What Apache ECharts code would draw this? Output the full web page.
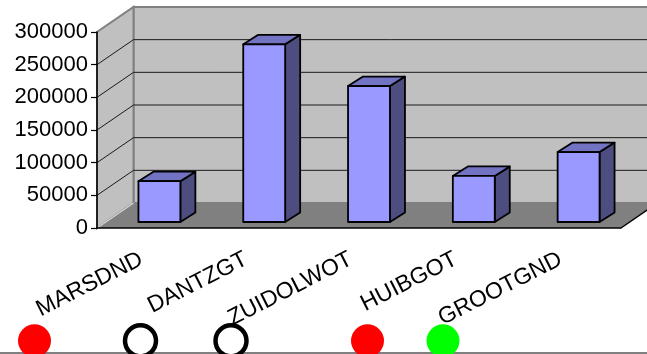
<!DOCTYPE html>
<html>
<head>
<meta charset="utf-8">
<script src="https://cdn.jsdelivr.net/npm/echarts@6/dist/echarts.min.js"></script>
<style>
  html, body { margin: 0; padding: 0; background: #fff; }
  #chart { width: 647px; height: 354px; }
</style>
</head>
<body>
<div id="chart"></div>
<script>
const categories = ["MARSDND", "DANTZGT", "ZUIDOLWOT", "HUIBGOT", "GROOTGND"];
const values = [62500, 272000, 208000, 70500, 107000];
const yTicks = [0, 50000, 100000, 150000, 200000, 250000, 300000];

// status dots below the chart (position on a hidden 0..647 axis)
const dotPos = [34.5, 140.5, 231, 367.5, 443];
const dotKind = ["red", "ring", "ring", "red", "green"];

const FONT = "'Liberation Sans', Arial, sans-serif";
// depth of the 3d box
const DX = 36.5, DY = -25;
// bar front offset and bar depth
const BX = 10, BY = -6, BDX = 15, BDY = -9.5;

const chart = echarts.init(document.getElementById("chart"));

function renderWalls(params, api) {
  const cs = params.coordSys;
  const x0 = cs.x, x1 = cs.x + cs.width;
  const yt = cs.y, yb = cs.y + cs.height;
  const children = [];
  // back wall
  children.push({
    type: "polygon",
    shape: { points: [[x0 + DX, yt + DY], [x1 + DX, yt + DY], [x1 + DX, yb + DY], [x0 + DX, yb + DY]] },
    style: { fill: "#c0c0c0", stroke: "#808080", lineWidth: 2 }
  });
  // side wall
  children.push({
    type: "polygon",
    shape: { points: [[x0, yb], [x0, yt], [x0 + DX, yt + DY], [x0 + DX, yb + DY]] },
    style: { fill: "#c0c0c0", stroke: "#808080", lineWidth: 2 }
  });
  // grid lines on walls
  yTicks.forEach(function (v) {
    if (v === 0 || v === yTicks[yTicks.length - 1]) return;
    const y = api.coord([0, v])[1];
    children.push({
      type: "polyline",
      shape: { points: [[x0, y], [x0 + DX, y + DY], [x1 + DX, y + DY]] },
      style: { fill: null, stroke: "#1a1a1a", lineWidth: 1 }
    });
  });
  // floor
  children.push({
    type: "polygon",
    shape: { points: [[x0, yb], [x1, yb], [x1 + DX, yb + DY], [x0 + DX, yb + DY]] },
    style: { fill: "#808080" }
  });
  children.push({
    type: "line",
    shape: { x1: x0, y1: yb, x2: x0 + DX, y2: yb + DY },
    style: { stroke: "#d4d4d4", lineWidth: 1.5 }
  });
  children.push({
    type: "line",
    shape: { x1: x1, y1: yb, x2: x1 + DX, y2: yb + DY },
    style: { stroke: "#000", lineWidth: 1.5 }
  });
  return { type: "group", children: children };
}

function renderBar(params, api) {
  const i = api.value(0), v = api.value(1);
  const top = api.coord([i, v]);
  const base = api.coord([i, 0]);
  const bw = api.size([1, 0])[0];
  const fl = top[0] - bw * 0.2 + BX, fr = fl + bw * 0.4;
  const ft = top[1] + BY, fb = base[1] + BY;
  const line = { stroke: "#000", lineWidth: 1.8, lineJoin: "round" };
  return {
    type: "group",
    children: [
      {
        type: "polygon",
        shape: { points: [[fr, ft], [fr, fb], [fr + BDX, fb + BDY], [fr + BDX, ft + BDY]] },
        style: Object.assign({ fill: "#4d4d80" }, line)
      },
      {
        type: "polygon",
        shape: { points: [[fl, ft], [fr, ft], [fr + BDX, ft + BDY], [fl + BDX, ft + BDY]] },
        style: Object.assign({ fill: "#7373c4" }, line)
      },
      {
        type: "rect",
        shape: { x: fl, y: ft, width: fr - fl, height: fb - ft },
        style: Object.assign({ fill: "#9999ff" }, line)
      }
    ]
  };
}

const option = {
  animation: false,
  backgroundColor: "#fff",
  grid: [
    { left: 97, right: 26, top: 32, bottom: 126 },
    { left: 0, right: 0, top: 300, bottom: 1 }
  ],
  xAxis: [
    {
      type: "category",
      data: categories,
      z: 10,
      axisLine: { lineStyle: { color: "#000", width: 1.5 } },
      axisTick: { length: 6, lineStyle: { color: "#000", width: 1.2 } },
      axisLabel: {
        interval: 0, rotate: 27, margin: 26, padding: [0, 9, 0, 0],
        color: "#000", fontSize: 23, fontFamily: FONT
      }
    },
    {
      type: "value", gridIndex: 1, min: 0, max: 647,
      axisLine: { show: true, onZero: false, lineStyle: { color: "#808080", width: 2 } },
      axisTick: { show: false }, axisLabel: { show: false }, splitLine: { show: false }
    }
  ],
  yAxis: [
    {
      type: "value", min: 0, max: 300000, interval: 50000,
      z: 10,
      axisLine: { show: true, lineStyle: { color: "#000", width: 1.5 } },
      axisTick: { show: true, length: 6, lineStyle: { color: "#000", width: 1.2 } },
      splitLine: { show: false },
      axisLabel: {
        margin: 9, color: "#000", fontSize: 22, fontFamily: FONT,
        formatter: function (v) { return String(v); }
      }
    },
    {
      type: "value", gridIndex: 1, min: 0, max: 1, show: false
    }
  ],
  series: [
    {
      type: "custom", z: 1, clip: false, silent: true,
      data: [[0, 0]],
      encode: { x: 0, y: 1 },
      renderItem: renderWalls
    },
    {
      type: "custom", z: 2, clip: false,
      data: values.map(function (v, i) { return [i, v]; }),
      encode: { x: 0, y: 1 },
      renderItem: renderBar
    },
    {
      type: "scatter", xAxisIndex: 1, yAxisIndex: 1, clip: true,
      symbolSize: function (val, p) { return dotKind[p.dataIndex] === "ring" ? 31 : 33; },
      data: dotPos.map(function (x, i) {
        const k = dotKind[i];
        return {
          value: [x, 0.23],
          itemStyle: k === "ring"
            ? { color: "#fff", borderColor: "#000", borderWidth: 4.5, opacity: 1 }
            : { color: k === "red" ? "#ff0000" : "#00ff00", opacity: 1 }
        };
      })
    }
  ]
};

chart.setOption(option);
</script>
</body>
</html>
